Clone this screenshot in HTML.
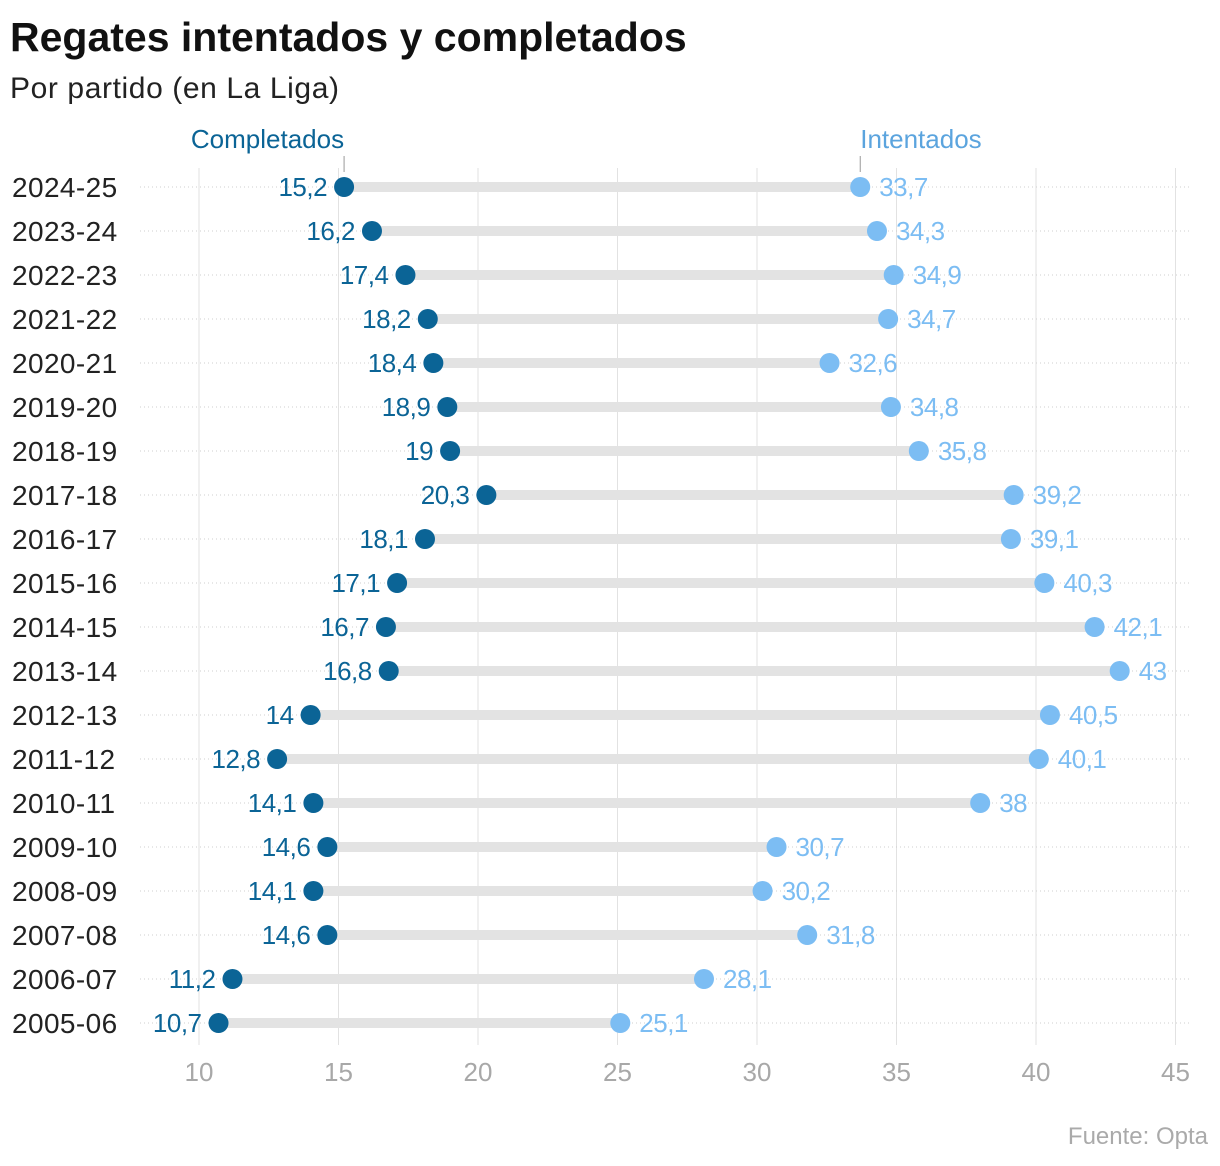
<!DOCTYPE html>
<html><head><meta charset="utf-8"><style>
body{margin:0;background:#fff;font-family:"Liberation Sans",sans-serif;}
#wrap{position:relative;width:1220px;height:1166px;}
h1{position:absolute;left:10px;top:14px;margin:0;font-size:41px;font-weight:bold;color:#111;letter-spacing:0px}
.sub{position:absolute;left:10px;top:72px;font-size:30px;color:#222;letter-spacing:0.6px}
.src{position:absolute;right:12px;top:1123px;font-size:24px;color:#aaa}
</style></head><body><div id="wrap">
<h1>Regates intentados y completados</h1>
<div class="sub">Por partido (en La Liga)</div>
<div class="src">Fuente: Opta</div>
<svg id="svg" width="1220" height="1166" style="position:absolute;left:0;top:0"></svg>
</div>
<script>
const seasons=["2024-25","2023-24","2022-23","2021-22","2020-21","2019-20","2018-19","2017-18","2016-17","2015-16","2014-15","2013-14","2012-13","2011-12","2010-11","2009-10","2008-09","2007-08","2006-07","2005-06"];
const completados=[15.2,16.2,17.4,18.2,18.4,18.9,19,20.3,18.1,17.1,16.7,16.8,14,12.8,14.1,14.6,14.1,14.6,11.2,10.7];
const intentados=[33.7,34.3,34.9,34.7,32.6,34.8,35.8,39.2,39.1,40.3,42.1,43,40.5,40.1,38,30.7,30.2,31.8,28.1,25.1];
const ticks=[10,15,20,25,30,35,40,45];
const NS="http://www.w3.org/2000/svg";
const svg=document.getElementById('svg');
const x=v=>199+(v-10)*27.9;
const y=i=>187+i*44;
const fmt=v=>String(v).replace('.',',');
const DARK="#0b6496",LIGHT="#7cbdf3";
function mk(t,a,txt){const e=document.createElementNS(NS,t);for(const k in a)e.setAttribute(k,a[k]);if(txt!==undefined)e.textContent=txt;svg.appendChild(e);return e;}
ticks.forEach(t=>{
 let g=mk('line',{x1:x(t),x2:x(t),y1:168,y2:1045,stroke:'#e2e2e2','stroke-width':1});
 
 
 let l=mk('text',{x:x(t),y:1081,'text-anchor':'middle','font-size':26,fill:'#a8a8a8'},t);
 
 
});
seasons.forEach((s,i)=>{
 let h=mk('line',{x1:140,x2:1190,y1:y(i),y2:y(i),stroke:'#cfcfcf','stroke-width':1,'stroke-dasharray':'1 3'});
 
 
 let yl=mk('text',{x:12,y:y(i)+10,'font-size':28,fill:'#222','letter-spacing':0.4},s);
 
 
 let b=mk('line',{x1:x(completados[i]),x2:x(intentados[i]),y1:y(i),y2:y(i),stroke:'#e3e3e3','stroke-width':10});
 
 
 let c1=mk('circle',{cx:x(completados[i]),cy:y(i),r:10,fill:DARK});
 
 
 let c2=mk('circle',{cx:x(intentados[i]),cy:y(i),r:10,fill:LIGHT});
 
 
 let t1=mk('text',{x:x(completados[i])-17,y:y(i)+9,'text-anchor':'end','font-size':26,fill:DARK,'letter-spacing':-0.5},fmt(completados[i]));
 
 
 let t2=mk('text',{x:x(intentados[i])+19,y:y(i)+9,'font-size':26,fill:LIGHT,'letter-spacing':-0.5},fmt(intentados[i]));
 
 
});
let lc=mk('text',{x:x(completados[0]),y:148,'text-anchor':'end','font-size':26,fill:DARK},'Completados');


let lcl=mk('line',{x1:x(completados[0]),x2:x(completados[0]),y1:156,y2:172,stroke:'#999','stroke-width':1});


let li=mk('text',{x:x(intentados[0]),y:148,'font-size':26,fill:'#5ba4de'},'Intentados');


let lil=mk('line',{x1:x(intentados[0]),x2:x(intentados[0]),y1:156,y2:172,stroke:'#999','stroke-width':1});


</script></body></html>
